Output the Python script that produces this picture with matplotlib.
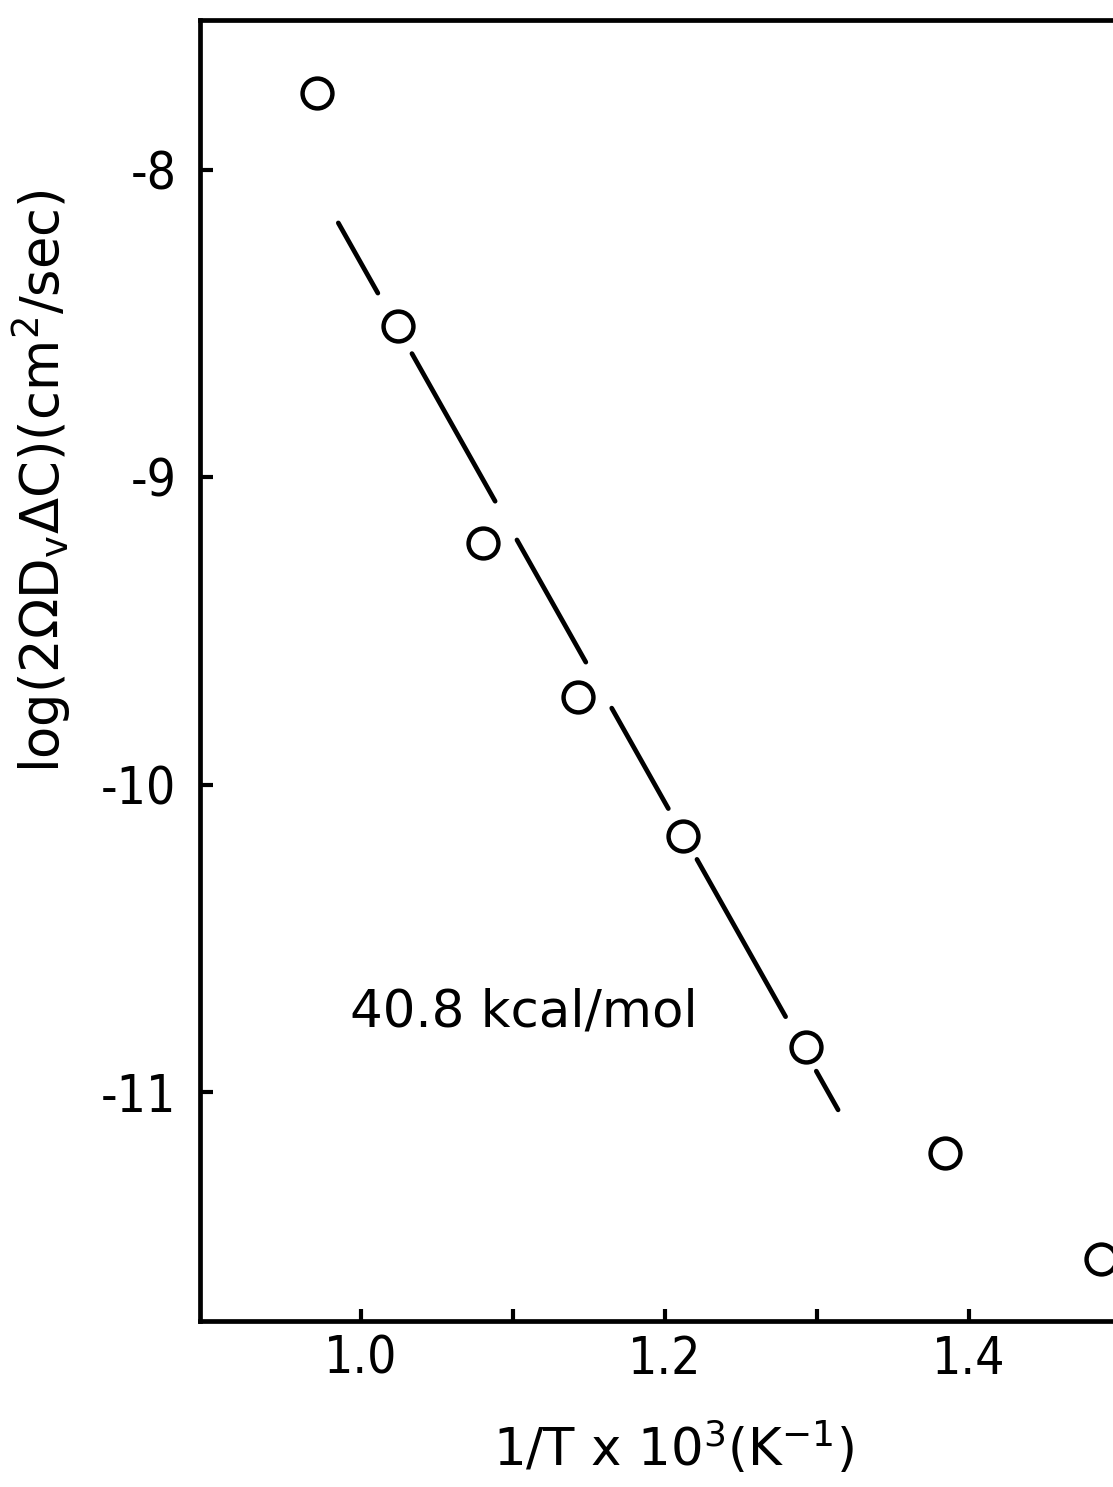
import matplotlib
matplotlib.use("Agg")
import matplotlib.pyplot as plt
from matplotlib.ticker import FixedLocator

plt.rcParams['font.family'] = ['DejaVu Sans']
plt.rcParams['mathtext.default'] = 'regular'
plt.rcParams['lines.scale_dashes'] = False

# Data
inv_T = [0.971, 1.024, 1.080, 1.143, 1.212, 1.293, 1.384, 1.487]
log_D = [-7.749, -8.508, -9.215, -9.716, -10.166, -10.853, -11.199, -11.543]

# Fitted line (activation energy 40.8 kcal/mol)
fit_x = [0.985, 1.315]
fit_y = [-8.172, -11.068]
fit_label = "40.8 kcal/mol"

xticks_major = [1.0, 1.2, 1.4]
xticks_minor = [1.1, 1.3]
xtick_labels = ["1.0", "1.2", "1.4"]
yticks = [-8, -9, -10, -11]
ytick_labels = ["-8", "-9", "-10", "-11"]

xlabel = r"1/T x 10$^3$(K$^{-1}$)"
ylabel = r"log(2$\Omega$D$_v$$\Delta$C)(cm$^2$/sec)"

fig = plt.figure(figsize=(11.13, 14.87), dpi=100)
fig.patch.set_facecolor("white")
ax = fig.add_axes([0.1797, 0.1116, 0.8958, 0.8749])

ax.set_xlim(0.894, 1.550)
ax.set_ylim(-11.745, -7.512)

# hand-drawn style broken fit line
ax.plot(fit_x, fit_y, color="black", lw=3.4, solid_capstyle="round",
        dash_capstyle="round",
        linestyle=(0, (58, 50, 122, 32, 101, 38, 83, 42, 130, 45, 32, 100)))

ax.plot(inv_T, log_D, linestyle="none", marker="o", ms=21.5,
        mfc="white", mec="black", mew=3.2, clip_on=False, zorder=3)

ax.text(0.993, -10.74, fit_label, fontsize=37, ha="left", va="center",
        color="black")

for s in ax.spines.values():
    s.set_linewidth(3.4)
    s.set_color("black")

ax.xaxis.set_major_locator(FixedLocator(xticks_major))
ax.xaxis.set_minor_locator(FixedLocator(xticks_minor))
ax.set_xticklabels(xtick_labels)
ax.set_yticks(yticks)
ax.set_yticklabels(ytick_labels)

ax.tick_params(axis="x", which="both", direction="in", length=9, width=3,
               pad=10, labelsize=37, top=False)
ax.tick_params(axis="y", which="both", direction="in", length=9, width=3,
               pad=17, labelsize=37, right=False)
for lab in ax.get_xticklabels() + ax.get_yticklabels():
    lab.set_fontstretch("condensed")

ax.set_xlabel(xlabel, fontsize=37)
ax.xaxis.set_label_coords(0.475, -0.075)
ax.set_ylabel(ylabel, fontsize=38)
ax.yaxis.set_label_coords(-0.127, 0.646)

fig.savefig("out.png", dpi=100)
